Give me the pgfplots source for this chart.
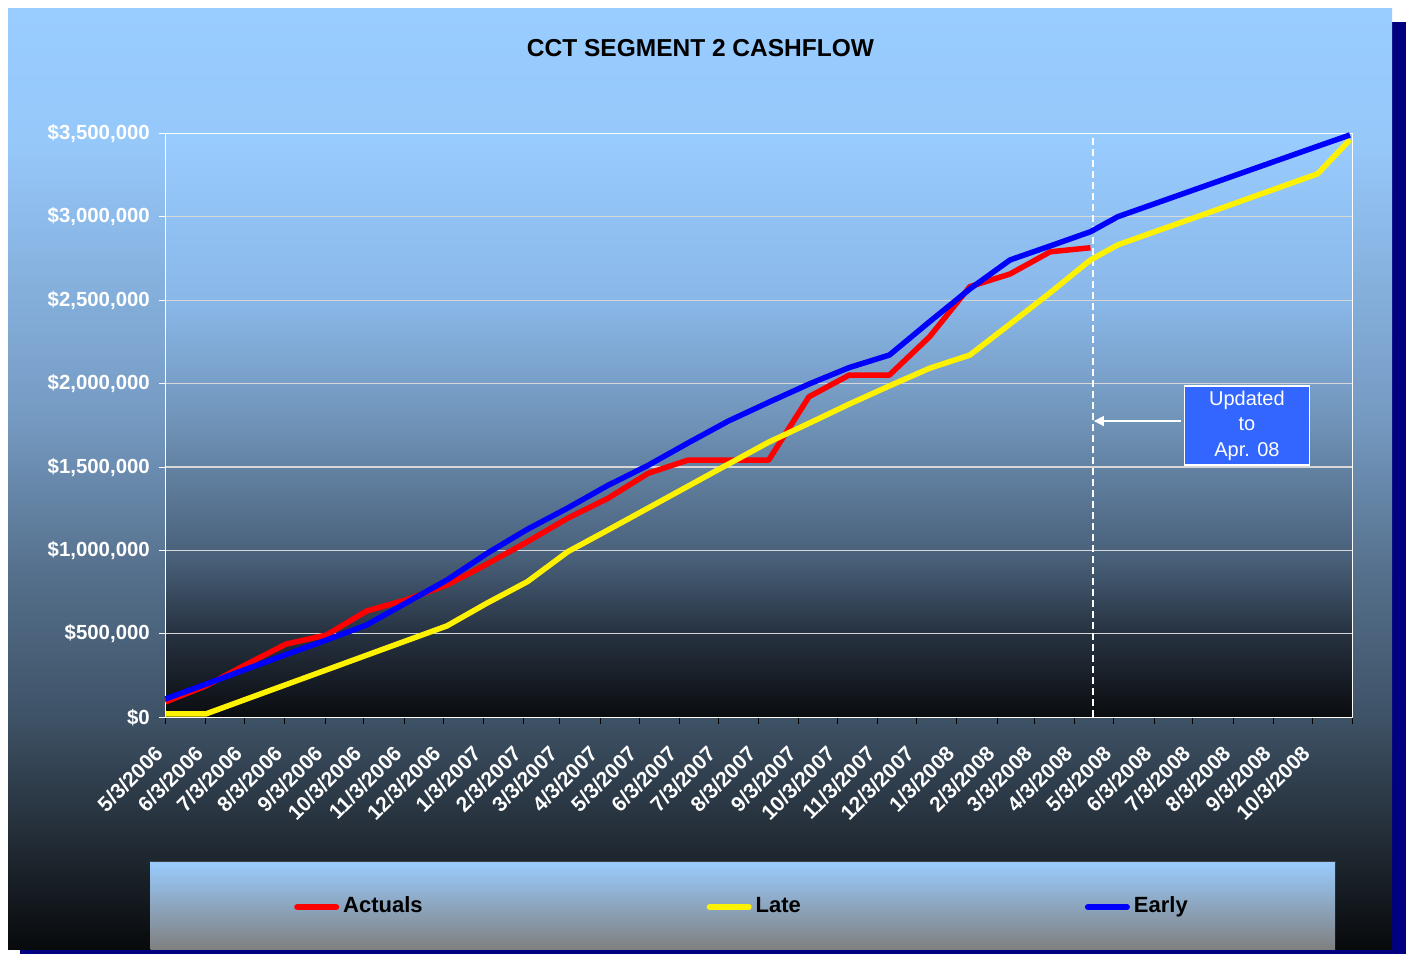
\documentclass[border=0pt]{standalone}
\usepackage{pgfplots}
\pgfplotsset{compat=1.18}
\usepackage{fontspec}
\setmainfont{Liberation Sans}
\usetikzlibrary{arrows.meta}

\definecolor{navyshadow}{RGB}{0,0,128}
\definecolor{boxblue}{RGB}{51,102,255}
\definecolor{gridc}{RGB}{215,215,215}
% plot area gradient
\definecolor{pA}{RGB}{10,12,15}
\definecolor{pB}{RGB}{40,52,67}
\definecolor{pC}{RGB}{72,95,120}
\definecolor{pD}{RGB}{113,149,186}
\definecolor{pE}{RGB}{137,183,232}
\definecolor{pF}{RGB}{153,204,255}
\pgfdeclareverticalshading{plotshade}{100bp}{color(0bp)=(pA); color(25bp)=(pA); color(32.5bp)=(pB); color(38.5bp)=(pC); color(50.75bp)=(pD); color(60.5bp)=(pE); color(75bp)=(pF); color(100bp)=(pF)}
% outer gradient
\definecolor{oA}{RGB}{8,10,12}
\definecolor{oB}{RGB}{35,45,55}
\definecolor{oC}{RGB}{62,82,102}
\definecolor{oD}{RGB}{85,112,140}
\definecolor{oE}{RGB}{118,155,195}
\definecolor{oF}{RGB}{150,200,250}
\definecolor{oG}{RGB}{153,204,255}
\pgfdeclareverticalshading{outershade}{100bp}{color(0bp)=(oA); color(25bp)=(oA); color(31bp)=(oB); color(37.25bp)=(oC); color(45bp)=(oD); color(53.5bp)=(oE); color(68bp)=(oF); color(75bp)=(oG); color(100bp)=(oG)}
% legend gradient
\definecolor{lA}{RGB}{128,128,128}
\definecolor{lB}{RGB}{153,204,255}
\pgfdeclareverticalshading{legshade}{100bp}{color(0bp)=(lA); color(25bp)=(lA); color(75bp)=(lB); color(100bp)=(lB)}

\begin{document}
\begin{tikzpicture}[x=1pt,y=1pt]
\path[use as bounding box] (0,0) rectangle (1408,954);
\fill[white] (0,0) rectangle (1408,954);
\fill[navyshadow] (20,0) rectangle (1406,932);
\shade[shading=outershade] (8,5) rectangle (1392,945);
\shade[shading=legshade] (150.5,5) rectangle (1335,93);
\draw[black!75, line width=1pt] (150.5,93) -- (1335,93);
\node[anchor=base, font=\fontsize{24.5}{29}\selectfont\bfseries] at (700.5,897) {CCT SEGMENT 2 CASHFLOW};

\begin{axis}[
  at={(165.5pt,236.7pt)}, anchor=south west,
  scale only axis, width=1187.1pt, height=584pt,
  xmin=0, xmax=915, ymin=0, ymax=3500000,
  scaled y ticks=false, scaled x ticks=false,
  clip=false,
  axis background/.style={shading=plotshade},
  axis line style={white, line width=1.5pt},
  xtick={0,31,61,92,123,153,184,214,245,276,304,335,365,396,426,457,488,518,549,579,610,641,670,701,731,762,792,823,854,884,915},
  xticklabels={5/3/2006,6/3/2006,7/3/2006,8/3/2006,9/3/2006,10/3/2006,11/3/2006,12/3/2006,1/3/2007,2/3/2007,3/3/2007,4/3/2007,5/3/2007,6/3/2007,7/3/2007,8/3/2007,9/3/2007,10/3/2007,11/3/2007,12/3/2007,1/3/2008,2/3/2008,3/3/2008,4/3/2008,5/3/2008,6/3/2008,7/3/2008,8/3/2008,9/3/2008,10/3/2008,{}},
  ytick={0,500000,1000000,1500000,2000000,2500000,3000000,3500000},
  yticklabels={{\$0},{\$500,000},{\$1,000,000},{\$1,500,000},{\$2,000,000},{\$2,500,000},{\$3,000,000},{\$3,500,000}},
  tick pos=left,
  tick align=outside,
  major tick length=7pt,
  x tick style={black, line width=1pt},
  y tick style={white, line width=1pt},
  ymajorgrids, major grid style={gridc, line width=1.2pt},
  ticklabel style={text=white, inner sep=0pt},
  xticklabel style={font=\fontsize{21}{24}\selectfont\bfseries, xshift=-12pt, yshift=-20pt, rotate=45, anchor=north east},
  yticklabel style={font=\fontsize{20.4}{23}\selectfont\bfseries, xshift=-8.5pt, anchor=east},
  legend style={at={(0.4848,-0.3248)}, anchor=center, draw=none, fill=none,
    legend columns=3, font=\fontsize{22}{26}\selectfont\bfseries, text=black,
    nodes={inner sep=0pt, text height=15.8pt, text depth=4.6pt},
    /tikz/every odd column/.append style={column sep=4pt},
    /tikz/every even column/.append style={column sep=284pt}},
  legend image code/.code={\draw[#1, line width=6pt, line cap=round] (0pt,0pt) -- (39pt,0pt);},
]
\draw[white, line width=1.2pt, dash pattern=on 7pt off 4pt] (axis cs:715,0) -- (axis cs:715,3500000);

\addplot[red, line width=5.5pt, line join=round, mark=none] coordinates {
(0,92000) (31,188000) (62,316000) (93,439000) (124,493000) (155,637000)
(186,705000) (217,793000) (248,919000) (279,1052000) (310,1193000) (341,1312000)
(372,1462000) (403,1542000) (434,1542000) (465,1542000) (496,1921000) (527,2051000)
(558,2051000) (589,2281000) (620,2581000) (651,2657000) (682,2790000) (713,2814000)
};
\addlegendentry{Actuals}

\addplot[yellow, line width=5.5pt, line join=round, mark=none] coordinates {
(0,20000) (31,20000) (62,108000) (93,196000) (124,284000) (155,372000)
(186,460000) (217,548000) (248,685000) (279,813000) (310,992000) (341,1122000)
(372,1254000) (403,1386000) (434,1518000) (465,1649000) (496,1762000) (527,1877000)
(558,1986000) (589,2092000) (620,2171000) (651,2357000) (682,2545000) (713,2741000)
(734,2831000) (765,2917000) (796,3002000) (827,3088000) (858,3174000) (888,3257000)
(913,3461000)
};
\addlegendentry{Late}

\addplot[blue, line width=5.5pt, line join=round, mark=none] coordinates {
(0,110000) (31,198000) (62,288000) (93,376000) (124,463000) (155,553000)
(186,688000) (217,823000) (248,983000) (279,1127000) (310,1254000) (341,1390000)
(372,1510000) (403,1645000) (434,1776000) (465,1888000) (496,1997000) (527,2096000)
(558,2171000) (589,2371000) (620,2567000) (651,2741000) (682,2825000) (713,2910000)
(734,3000000) (765,3085000) (796,3170000) (827,3255000) (858,3340000) (888,3422000)
(913,3490000)
};
\addlegendentry{Early}

\draw[white, line width=1.5pt, -{Triangle[length=10pt,width=10pt]}] (axis cs:782.6,1775700) -- (axis cs:715.6,1775700);
\node[align=center, font=\fontsize{20}{25.5}\selectfont, text=white, fill=boxblue, draw=white, line width=1.5pt, minimum width=125pt, minimum height=79pt, inner sep=0pt] at (axis cs:833.6,1749700) {Updated\\to\\Apr. 08};
\end{axis}
\end{tikzpicture}
\end{document}
